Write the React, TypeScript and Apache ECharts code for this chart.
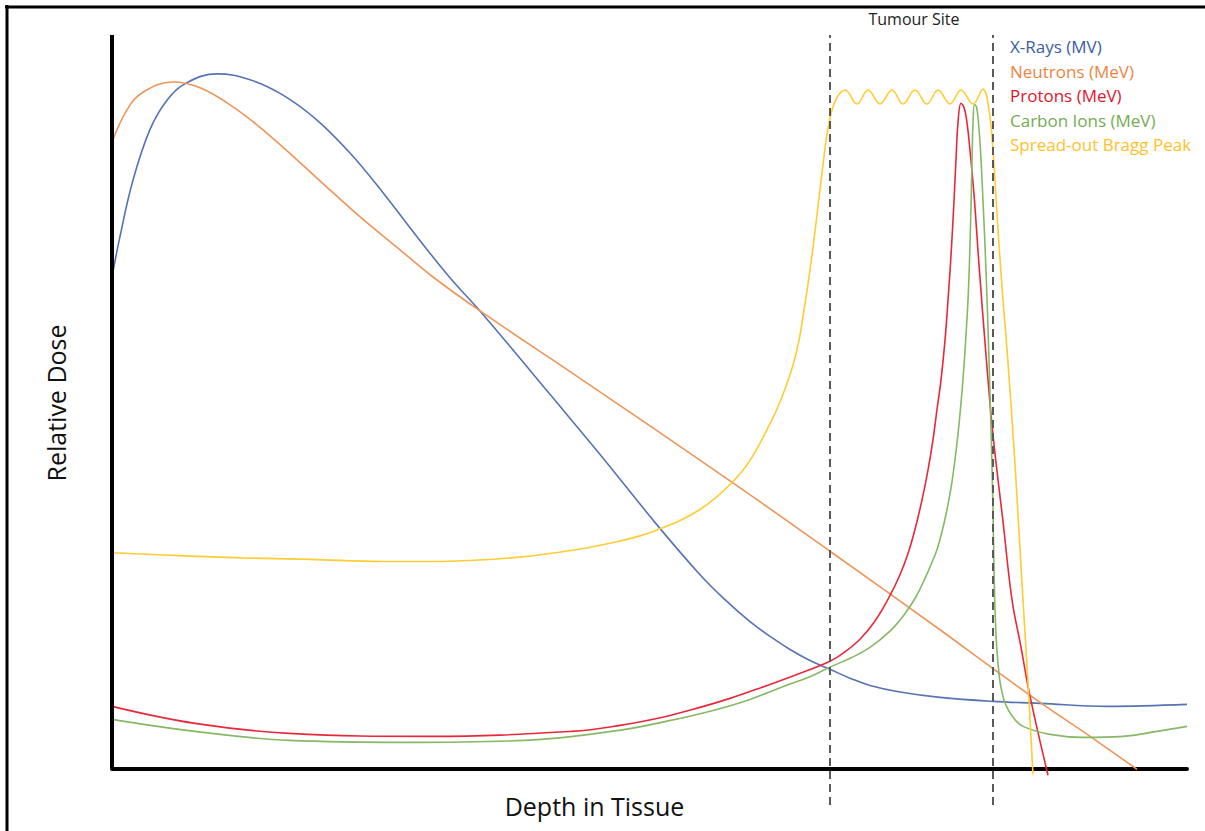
import React, { useEffect, useRef } from "react";
import * as echarts from "echarts";

// Depth in tissue: 0..100 (arbitrary units); relative dose: 0..100
const seriesNames = [
  "X-Rays (MV)",
  "Neutrons (MeV)",
  "Protons (MeV)",
  "Carbon Ions (MeV)",
  "Spread-out Bragg Peak",
];
const lineColors = ["#5673B4", "#EE955A", "#E8283A", "#86B865", "#FFCC33"];
const textColors = ["#3B5CA3", "#EE8443", "#E3142C", "#74AC50", "#FFC22A"];

const xRays: number[][] = [
  [0, 67.0], [0.74, 72.5], [1.95, 80.2], [3.53, 87.1], [5.12, 91.1], [6.98, 93.5],
  [9.77, 94.7], [12.84, 93.9], [15.91, 91.8], [19.07, 88.4], [22.14, 83.9],
  [25.21, 78.5], [28.37, 72.5], [31.44, 66.9], [34.51, 61.9], [40.74, 51.0],
  [45.4, 42.8], [50.7, 33.2], [54.7, 26.4], [57.02, 23.0], [59.35, 20.0],
  [61.21, 18.0], [63.07, 16.2], [64.93, 14.7], [66.79, 13.5], [68.65, 12.3],
  [70.51, 11.3], [73.3, 10.4], [77.02, 9.67], [81.95, 9.13], [86.33, 8.86],
  [92.56, 8.45], [100, 8.72],
];

const neutrons: number[][] = [
  [0, 85.4], [1.4, 89.8], [2.88, 92.2], [5.67, 93.6], [8.19, 92.8], [11.26, 90.2],
  [14.42, 86.6], [17.49, 82.6], [20.56, 78.5], [23.72, 74.4], [26.79, 70.7],
  [29.86, 67.0], [34.51, 62.1], [43.81, 52.9], [57.49, 39.2], [66.79, 29.6],
  [77.02, 18.9], [82.05, 13.5], [86.6, 8.72], [90.98, 4.36], [95.35, -0.14],
];

const protons: number[][] = [
  [0, 8.45], [7.72, 6.13], [16.47, 4.77], [29.58, 4.36], [42.79, 5.04],
  [47.26, 5.86], [51.53, 7.08], [54.7, 8.31], [57.49, 9.54], [60.37, 11.0],
  [63.53, 12.7], [66.79, 14.6], [68.19, 15.9], [69.58, 17.6], [70.98, 20.1],
  [72.28, 23.3], [73.3, 26.4], [74.05, 29.3], [74.7, 32.6], [75.35, 36.6],
  [75.91, 40.7], [76.37, 44.8], [76.74, 48.9], [77.12, 53.0], [77.49, 58.4],
  [77.77, 63.9], [78.05, 70.0], [78.33, 77.5], [78.51, 83.0], [78.7, 88.1],
  [78.98, 90.7], [79.26, 90.1], [79.53, 88.1], [79.81, 84.3], [80.19, 78.2],
  [80.65, 68.7], [81.3, 56.4], [81.95, 45.5], [82.88, 33.7], [83.72, 23.0],
  [84.56, 16.5], [85.4, 9.81], [87.07, -0.95],
];

const carbonIons: number[][] = [
  [0, 6.68], [7.72, 5.04], [16.47, 3.81], [27.44, 3.54], [38.42, 3.81],
  [47.16, 5.18], [51.53, 6.4], [55.91, 7.9], [59.35, 9.4], [62.51, 11.2],
  [64.93, 12.5], [66.79, 13.8], [68.65, 15.0], [70.51, 16.5], [72.37, 18.7],
  [73.77, 21.1], [74.79, 23.4], [75.63, 25.9], [76.28, 28.1], [76.74, 29.8],
  [77.3, 32.8], [77.77, 36.0], [78.14, 39.1], [78.51, 43.2], [78.79, 46.9],
  [79.07, 51.4], [79.26, 55.0], [79.44, 59.1], [79.63, 63.9], [79.77, 69.3],
  [79.91, 76.8], [80.0, 83.0], [80.09, 87.7], [80.23, 90.5], [80.42, 90.2],
  [80.6, 88.1], [80.79, 84.3], [81.02, 77.5], [81.3, 68.0], [81.58, 55.7],
  [81.77, 46.2], [81.91, 38.0], [82.0, 31.2], [82.09, 24.4], [82.23, 18.3],
  [82.42, 14.3], [82.7, 11.0], [83.16, 8.58], [83.91, 6.81], [84.74, 5.72],
  [87.26, 4.63], [90.33, 4.22], [94.05, 4.36], [97.21, 5.04], [100, 5.72],
];

const sobp: number[][] = [
  [0, 29.4], [6.33, 29.0], [12.09, 28.7], [18.42, 28.5], [25.21, 28.2],
  [29.58, 28.2], [34.05, 28.4], [37.95, 28.8], [40.74, 29.3], [44.0, 30.0],
  [46.98, 30.9], [49.12, 31.7], [50.7, 32.5], [52.84, 33.8], [54.7, 35.3],
  [56.09, 36.8], [57.49, 38.7], [58.88, 41.0], [60.0, 43.6], [60.93, 46.2],
  [61.86, 49.0], [62.7, 52.1], [63.35, 55.0], [63.91, 58.4], [64.37, 62.5],
  [64.84, 67.0], [65.3, 72.1], [65.77, 77.8], [66.14, 82.3], [66.51, 86.4],
  [66.98, 89.8], [67.53, 91.7], [68.19, 92.5], [69.3, 90.6], [70.33, 92.5],
  [71.44, 90.6], [72.56, 92.5], [73.58, 90.6], [74.7, 92.5], [75.81, 90.6],
  [76.84, 92.5], [77.95, 90.6], [78.98, 92.5], [80.09, 90.6], [81.02, 92.6],
  [81.58, 89.8], [81.95, 84.3], [82.42, 73.4], [82.88, 63.9], [83.26, 57.1],
  [83.91, 43.5], [84.47, 29.8], [84.74, 23.0], [85.21, 11.7], [85.67, -0.82],
];

const tumourSite = [66.79, 81.95];
const seriesData = [xRays, neutrons, protons, carbonIons, sobp];

export default function App() {
  const ref = useRef<HTMLDivElement>(null);
  useEffect(() => {
    if (!ref.current) return;
    const chart = echarts.init(ref.current, null, { renderer: "svg" });
    const font = '"Open Sans", "Noto Sans", sans-serif';
    const lines = seriesNames.map((name, i) => ({
      name,
      type: "line",
      data: seriesData[i],
      showSymbol: false,
      smooth: 0.4,
      silent: true,
      lineStyle: { color: lineColors[i], width: 1.6 },
      itemStyle: { color: lineColors[i] },
      z: 3,
    }));
    const dashed = { type: [8, 5], color: "#5a5a5a", width: 2 };
    const option = {
      animation: false,
      backgroundColor: "#ffffff",
      grid: { left: 112, right: 18, top: 35, bottom: 26, outerBoundsMode: "none", containLabel: false },
      legend: {
        orient: "vertical",
        left: 1000,
        top: 33,
        icon: "none",
        itemWidth: 0,
        itemHeight: 14,
        itemGap: 7.5,
        selectedMode: false,
        textStyle: { fontSize: 17, fontFamily: font },
        data: seriesNames.map((n, i) => ({ name: n, textStyle: { color: textColors[i] } })),
      },
      xAxis: {
        type: "value",
        min: 0,
        max: 100,
        name: "Depth in Tissue",
        nameLocation: "middle",
        nameGap: -12,
        nameTextStyle: { fontSize: 25, fontFamily: font, color: "#111", padding: [0, 110, 0, 0] },
        axisLine: { show: true, onZero: true, lineStyle: { color: "#000", width: 4 } },
        axisTick: { show: false },
        axisLabel: { show: false },
        splitLine: { show: false },
      },
      yAxis: {
        type: "value",
        min: -5,
        max: 100,
        name: "Relative Dose",
        nameLocation: "middle",
        nameGap: 44,
        nameTextStyle: { fontSize: 25, fontFamily: font, color: "#111", padding: [0, 0, 0, 34] },
        axisLine: { show: false },
        axisTick: { show: false },
        axisLabel: { show: false },
        splitLine: { show: false },
      },
      graphic: [
        { type: "line", shape: { x1: 5, y1: 7, x2: 1205, y2: 7 }, style: { stroke: "#000", lineWidth: 3 } },
        { type: "line", shape: { x1: 7, y1: 5, x2: 7, y2: 831 }, style: { stroke: "#000", lineWidth: 3 } },
        {
          type: "text",
          x: 914,
          y: 19,
          style: {
            text: "Tumour Site",
            fontSize: 16,
            fontFamily: font,
            fill: "#222",
            align: "center",
            verticalAlign: "middle",
          },
        },
      ],
      series: [
        ...lines,
        {
          name: "axes",
          type: "line",
          data: [[0, 0]],
          showSymbol: false,
          clip: false,
          silent: true,
          lineStyle: { opacity: 0 },
          z: 2,
          markLine: {
            silent: true,
            symbol: ["none", "none"],
            label: { show: false },
            animation: false,
            data: [
              { xAxis: tumourSite[0], lineStyle: dashed },
              { xAxis: tumourSite[1], lineStyle: dashed },
              [
                { coord: [0, 0], lineStyle: { type: "solid", color: "#000", width: 4 } },
                { coord: [0, 100] },
              ],
            ],
          },
        },
      ],
    };
    chart.setOption(option as any);
    return () => chart.dispose();
  }, []);
  return (
    <div
      ref={ref}
      style={{ position: "fixed", left: 0, top: 0, width: 1205, height: 831, background: "#fff" }}
    />
  );
}
